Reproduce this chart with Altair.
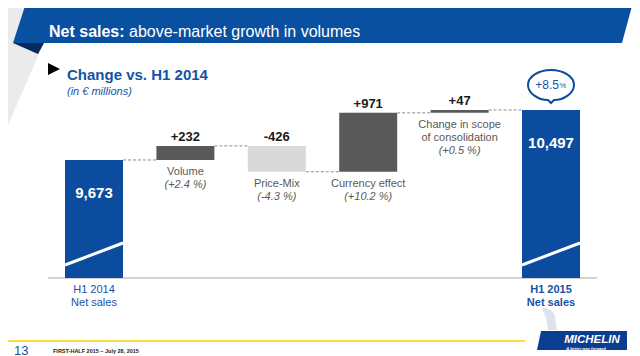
import altair as alt
import pandas as pd

# ---------------- data ----------------
step_names = ["H1 2014\nNet sales", "Volume", "Price-Mix", "Currency effect",
              "Change in scope\nof consolidation", "H1 2015\nNet sales"]
step_values = [9673, 232, -426, 971, 47, 10497]
step_kinds = ["total", "delta", "delta", "delta", "delta", "total"]
step_pcts = ["", "(+2.4 %)", "(-4.3 %)", "(+10.2 %)", "(+0.5 %)", ""]
growth_text = "+8.5"

title_bold = "Net sales:"
title_rest = "above-market growth in volumes"
subtitle = "Change vs. H1 2014"
unit_note = "(in € millions)"
page_no = "13"
footer_text = "FIRST-HALF 2015 – July 28, 2015"

# ---------------- styling / scale parameters ----------------
W, H = 624, 348
BLUE = "#0C4C9E"
TXT_BLUE = "#1553A6"
FONT = "Liberation Sans, Arial, sans-serif"

AXIS_FLOOR = 7728        # value sitting on the broken baseline
UNITS_PER_PX = 16.48
BASE_PX = 270            # baseline position in the plot
X_STEP = 91.4
X_FIRST = 86
BAR_W = 58

# ---------------- table ----------------
rows = []
level = 0
for i, (n, v, k, p) in enumerate(zip(step_names, step_values, step_kinds, step_pcts)):
    if k == "total":
        start, end = AXIS_FLOOR, v
        lab = f"{v:,}"
        kind = "total"
    else:
        start, end = level, level + v
        lab = f"{v:+d}"
        kind = "up" if v >= 0 else "down"
    level = end
    rows.append(dict(idx=i, name=n, lab=lab, start=start, end=end,
                     top=max(start, end), bottom=min(start, end),
                     kind=kind, pct=p, lines=n.count("\n") + 1,
                     nxt=i + 1))
df = pd.DataFrame(rows)

xs = alt.Scale(domain=[-X_FIRST / X_STEP, (W - X_FIRST) / X_STEP], nice=False, zero=False, padding=0)
ys = alt.Scale(domain=[AXIS_FLOOR - (H - BASE_PX) * UNITS_PER_PX,
                       AXIS_FLOOR + BASE_PX * UNITS_PER_PX], nice=False, zero=False, padding=0)
X = alt.X("idx:Q", scale=xs, axis=None)


def Y(f):
    return alt.Y(f, scale=ys, axis=None)


base = alt.Chart(df)
deco = alt.Chart(alt.Data(values=[{"d": 0}]))


def shape(path, fill, x=0, y=0):
    return deco.mark_point(shape=path, size=4, filled=True, fill=fill, opacity=1,
                           strokeWidth=0).encode(x=alt.value(x), y=alt.value(y))


def label(text, x, y, **kw):
    return deco.mark_text(text=text, align=kw.pop("align", "left"), font=FONT, **kw).encode(
        x=alt.value(x), y=alt.value(y))


ELLIPSE = ("M-23,0 C-23,-8.3 -12.7,-15 0,-15 C12.7,-15 23,-8.3 23,0 "
           "C23,8.3 12.7,15 3,15 L0,18 L-3,15 C-12.7,15 -23,8.3 -23,0 Z")

layers = []
# slide decorations
layers.append(shape("M0,0 L51,0 L0,117 Z", "#EBEBEB"))
layers.append(shape("M5,35 L36,35 L30,46 Z", "#062A5E"))
layers.append(shape("M17,-2 L624,-2 L614,35 L5,35 Z", "#0A50A1"))
layers.append(label(title_bold, 41, 24, fontSize=16, fontWeight="bold", color="white"))
layers.append(label(title_rest, 121, 24, fontSize=16, color="white"))
layers.append(shape("M0,-6 L12,0 L0,6 Z", "#000000", 40, 61))
layers.append(label(subtitle, 59, 67, fontSize=15, fontWeight="bold", color=TXT_BLUE))
layers.append(label(unit_note, 59, 84, fontSize=11, fontStyle="italic", color=TXT_BLUE))

# baseline
layers.append(deco.mark_rule(color="#A6A6A6", strokeWidth=1).encode(
    x=alt.value(40), x2=alt.value(589), y=alt.value(BASE_PX)))

# dashed connectors
layers.append(base.transform_filter("datum.idx < 5").mark_rule(
    xOffset=BAR_W / 2, x2Offset=-BAR_W / 2, strokeDash=[3, 2], color="#8C8C8C", strokeWidth=1
).encode(x=X, x2=alt.X2("nxt"), y=Y("end:Q")))

# bars
layers.append(base.mark_bar(size=BAR_W).encode(
    x=X, y=Y("start:Q"), y2=alt.Y2("end"),
    color=alt.Color("kind:N", scale=alt.Scale(domain=["total", "up", "down"],
                                              range=[BLUE, "#595959", "#D9D9D9"]), legend=None)))

# white axis-break strokes in total bars
layers.append(base.transform_filter("datum.kind == 'total'").mark_rule(
    color="white", strokeWidth=3, xOffset=-BAR_W / 2, x2Offset=BAR_W / 2, yOffset=-13, y2Offset=-35
).encode(x=X, x2=alt.X2("idx"), y=Y("start:Q"), y2=alt.Y2("start")))

# labels above delta bars
layers.append(base.transform_filter("datum.kind != 'total'").mark_text(
    font=FONT, fontSize=13, fontWeight="bold", color="#1A1A1A", baseline="alphabetic", dy=-5
).encode(x=X, y=Y("top:Q"), text="lab:N"))

# names below delta bars
layers.append(base.transform_filter("datum.kind != 'total'").mark_text(
    font=FONT, fontSize=11, color="#595959", baseline="alphabetic", dy=15, lineBreak="\n", lineHeight=13
).encode(x=X, y=Y("bottom:Q"), text="name:N"))
for n in (1, 2):
    layers.append(base.transform_filter(f"datum.kind != 'total' && datum.lines == {n}").mark_text(
        font=FONT, fontSize=11, fontStyle="italic", color="#595959", baseline="alphabetic", dy=15 + 13 * n
    ).encode(x=X, y=Y("bottom:Q"), text="pct:N"))

# values inside total bars
layers.append(base.transform_filter("datum.kind == 'total'").mark_text(
    font=FONT, fontSize=15, fontWeight="bold", color="white", baseline="alphabetic", dy=38
).encode(x=X, y=Y("end:Q"), text="lab:N"))

# names under total bars
layers.append(base.transform_filter("datum.idx == 0").mark_text(
    font=FONT, fontSize=11, color=TXT_BLUE, baseline="alphabetic", dy=15, lineBreak="\n", lineHeight=12.5
).encode(x=X, y=Y("start:Q"), text="name:N"))
layers.append(base.transform_filter("datum.idx == 5").mark_text(
    font=FONT, fontSize=11, fontWeight="bold", color=TXT_BLUE, baseline="alphabetic", dy=15,
    lineBreak="\n", lineHeight=12.5
).encode(x=X, y=Y("start:Q"), text="name:N"))

# growth callout above final bar
final = base.transform_filter("datum.idx == 5")
layers.append(final.mark_point(
    shape=ELLIPSE, size=4, filled=True, fill="white", stroke=BLUE, strokeWidth=2, opacity=1, yOffset=-25
).encode(x=X, y=Y("end:Q")))
layers.append(final.mark_text(text=growth_text, font=FONT, fontSize=12, color=TXT_BLUE,
                              align="right", baseline="middle", dx=8, dy=-25
                              ).encode(x=X, y=Y("end:Q")))
layers.append(final.mark_text(text="%", font=FONT, fontSize=7.5, color=TXT_BLUE,
                              align="left", baseline="middle", dx=8.5, dy=-23.5
                              ).encode(x=X, y=Y("end:Q")))

# footer
layers.append(deco.mark_rule(color="#FFD200", strokeWidth=1.5).encode(
    x=alt.value(0), x2=alt.value(517), y=alt.value(333)))
layers.append(label(page_no, 6, 342.5, fontSize=13, color=TXT_BLUE))
layers.append(label(footer_text, 45, 343, fontSize=5.5, fontWeight="bold", color="#222222"))
layers.append(shape("M533,323 L619,323 L619,342 L529,342 Z", "#0A3E91"))
layers.append(shape("M534,300 C538,299 545,302 547,308 L549,322 L540,322 L538,310 Z", "#DDE3EE"))
layers.append(label("MICHELIN", 584, 332, fontSize=11.5, fontWeight="bold",
                    fontStyle="italic", color="white", align="center"))
layers.append(label("A better way forward", 578, 341, fontSize=4, fontWeight="bold",
                    fontStyle="italic", color="white", align="center"))

chart = alt.layer(*layers).properties(
    width=W, height=H, autosize=alt.AutoSizeParams(type="none"), padding=0
).configure_view(strokeWidth=0)

chart.save("out.html", embed_options={"renderer": "svg", "actions": False})
